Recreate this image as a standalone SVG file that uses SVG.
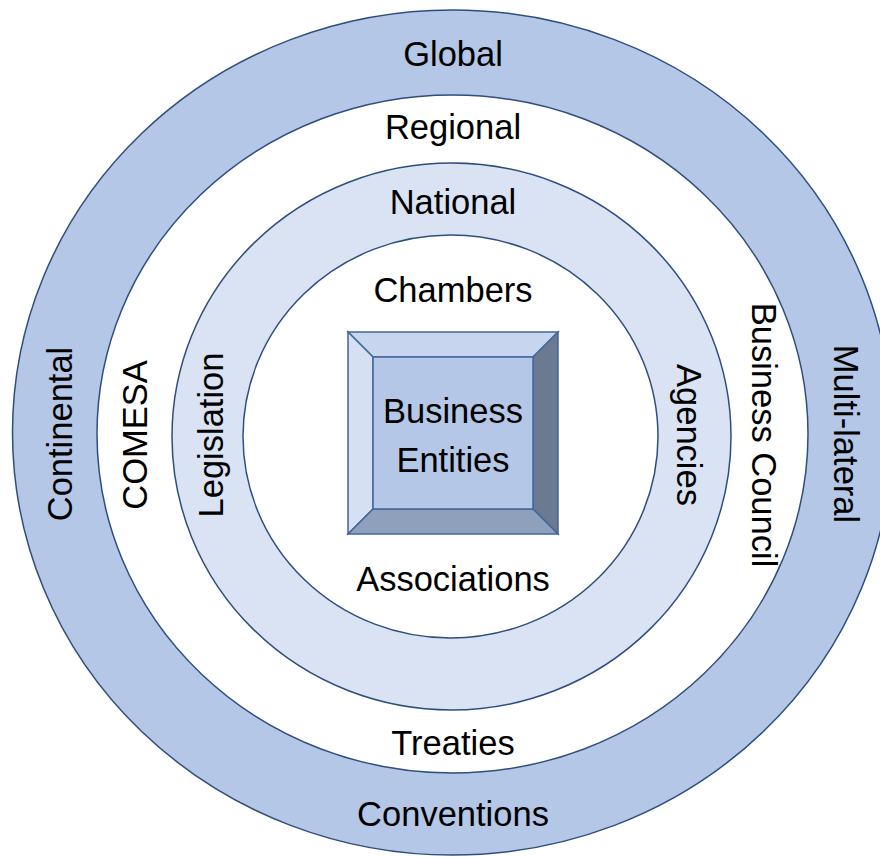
<svg xmlns="http://www.w3.org/2000/svg" width="880" height="857" viewBox="0 0 880 857">
<style>
.ring{stroke:#2F4E7E;stroke-width:1.5}
.t{font-family:"Liberation Sans",Arial,sans-serif;font-size:34.5px;fill:#000;text-anchor:middle}
.bev{stroke:#41669E;stroke-width:1.5;stroke-linejoin:miter}
</style>
<rect width="880" height="857" fill="#fff"/>
<g id="global">
<ellipse class="ring" cx="452.5" cy="432.5" rx="440" ry="422.5" fill="#B4C7E7"/>
<text class="t" x="453" y="66">Global</text>
<text class="t" x="453" y="826">Conventions</text>
<text class="t" transform="translate(72,434) rotate(-90)">Continental</text>
<text class="t" transform="translate(834,434) rotate(90)">Multi-lateral</text>
</g>
<g id="regional">
<ellipse class="ring" cx="452.5" cy="434" rx="355.5" ry="339" fill="#fff"/>
<text class="t" x="453" y="139">Regional</text>
<text class="t" x="453" y="755">Treaties</text>
<text class="t" transform="translate(147,435) rotate(-90)">COMESA</text>
<text class="t" transform="translate(752,435) rotate(90)">Business Council</text>
</g>
<g id="national">
<ellipse class="ring" cx="451.5" cy="436.5" rx="279.5" ry="273.5" fill="#DAE3F3"/>
<text class="t" x="453" y="214">National</text>
<text class="t" transform="translate(223,435) rotate(-90)">Legislation</text>
</g>
<g id="local">
<ellipse class="ring" cx="450.5" cy="436.5" rx="207.5" ry="201.5" fill="#fff"/>
<text class="t" x="453" y="302">Chambers</text>
<text class="t" x="453" y="591">Associations</text>
<text class="t" transform="translate(677,435) rotate(90)">Agencies</text>
</g>
<g id="business-entities">
<polygon class="bev" points="348,332 558,332 533,357 373,357" fill="#C7D5EE"/>
<polygon class="bev" points="348,332 373,357 373,509 348,534" fill="#D6E0F3"/>
<polygon class="bev" points="558,332 558,534 533,509 533,357" fill="#6B7A90"/>
<polygon class="bev" points="348,534 373,509 533,509 558,534" fill="#8FA0BC"/>
<rect class="bev" x="373" y="357" width="160" height="152" fill="#B4C7E7"/>
<text class="t" x="453" y="423">Business</text>
<text class="t" x="453" y="472">Entities</text>
</g>
<g id="connectors"/>
</svg>
